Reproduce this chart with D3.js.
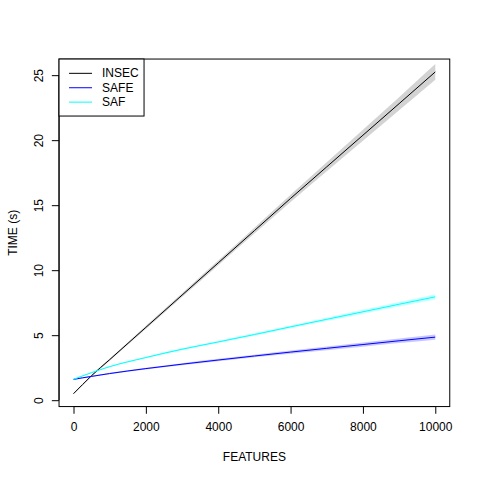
<!DOCTYPE html>
<html>
<head>
<meta charset="utf-8">
<script src="https://cdn.jsdelivr.net/npm/d3@7"></script>
<style>
  body { margin: 0; background: #fff; }
  svg { display: block; font-family: "Liberation Sans", Arial, sans-serif; }
</style>
</head>
<body>
<svg id="grafico"></svg>
<script>
// datos
const features = [0, 250, 500, 1000, 2000, 3000, 4000, 5000, 6000, 7000, 8000, 9000, 10000];

const insecFit = [0.5, 1.2, 1.89, 3.12, 5.6, 8.08, 10.56, 13.04, 15.52, 17.95, 20.38, 22.81, 25.25];
const insecHalf = [0.05, 0.06, 0.07, 0.08, 0.12, 0.15, 0.18, 0.22, 0.28, 0.35, 0.42, 0.5, 0.6];

const safeFit = [1.6, 1.72, 1.83, 2.05, 2.43, 2.77, 3.09, 3.4, 3.7, 3.99, 4.28, 4.57, 4.85];
const safeHalf = [0.05, 0.05, 0.05, 0.06, 0.07, 0.08, 0.09, 0.1, 0.12, 0.14, 0.16, 0.18, 0.2];

const safFit = [1.6, 1.87, 2.12, 2.58, 3.28, 3.92, 4.48, 5.05, 5.64, 6.22, 6.8, 7.38, 7.95];
const safHalf = [0.04, 0.04, 0.05, 0.05, 0.06, 0.07, 0.08, 0.1, 0.11, 0.13, 0.15, 0.17, 0.2];

const xTicks = [0, 2000, 4000, 6000, 8000, 10000];
const yTicks = [0, 5, 10, 15, 20, 25];

const series = [
  { name: "INSEC", fit: insecFit, half: insecHalf, line: "#000000", band: "#d3d3d3" },
  { name: "SAFE", fit: safeFit, half: safeHalf, line: "#0000ff", band: "rgba(0,0,255,0.22)" },
  { name: "SAF", fit: safFit, half: safHalf, line: "#00ffff", band: "rgba(0,255,255,0.22)" }
];

const WIDTH = 480, HEIGHT = 480;
const LINEA = 14.4; // una linea de margen en R
const margins = { top: 4.1 * LINEA, bottom: 5.1 * LINEA, left: 4.1 * LINEA, right: 2.1 * LINEA };

const svg = d3.select("#grafico")
  .attr("width", WIDTH)
  .attr("height", HEIGHT);

// rango extendido 4% como en R
const extender = ([a, b]) => [a - 0.04 * (b - a), b + 0.04 * (b - a)];

const escalaX = d3.scaleLinear()
  .domain(extender(d3.extent(features)))
  .range([margins.left, WIDTH - margins.right]);

const escalaY = d3.scaleLinear()
  .domain(extender(d3.extent(insecFit)))
  .range([HEIGHT - margins.bottom, margins.top]);

const contenedorDatos = svg.append("g");

series.forEach(s => {
  const puntos = features.map((f, i) => ({ x: f, y: s.fit[i], lo: s.fit[i] - s.half[i], hi: s.fit[i] + s.half[i] }));

  contenedorDatos.append("path")
    .datum(puntos)
    .attr("fill", s.band)
    .attr("stroke", "none")
    .attr("d", d3.area()
      .x(d => escalaX(d.x))
      .y0(d => escalaY(d.lo))
      .y1(d => escalaY(d.hi))
      .curve(d3.curveMonotoneX));

  contenedorDatos.append("path")
    .datum(puntos)
    .attr("fill", "none")
    .attr("stroke", s.line)
    .attr("stroke-width", 1)
    .attr("d", d3.line()
      .x(d => escalaX(d.x))
      .y(d => escalaY(d.y))
      .curve(d3.curveMonotoneX));
});

// caja del grafico
svg.append("rect")
  .attr("x", margins.left)
  .attr("y", margins.top)
  .attr("width", WIDTH - margins.left - margins.right)
  .attr("height", HEIGHT - margins.top - margins.bottom)
  .attr("fill", "none")
  .attr("stroke", "#000")
  .attr("stroke-width", 1);

// eje X
const ejeX = d3.axisBottom(escalaX)
  .tickValues(xTicks)
  .tickFormat(d3.format("d"))
  .tickSize(7.2)
  .tickPadding(9);

const contenedorEjeX = svg.append("g")
  .attr("transform", `translate(0 ${HEIGHT - margins.bottom})`)
  .call(ejeX);

contenedorEjeX.select(".domain")
  .attr("d", `M${escalaX(xTicks[0])},0H${escalaX(xTicks[xTicks.length - 1])}`);

// eje Y
const ejeY = d3.axisLeft(escalaY)
  .tickValues(yTicks)
  .tickSize(7.2);

const contenedorEjeY = svg.append("g")
  .attr("transform", `translate(${margins.left} 0)`)
  .call(ejeY);

contenedorEjeY.select(".domain")
  .attr("d", `M0,${escalaY(yTicks[0])}V${escalaY(yTicks[yTicks.length - 1])}`);

contenedorEjeY.selectAll(".tick text")
  .attr("x", null)
  .attr("dy", null)
  .attr("transform", "translate(-20.5 0) rotate(-90)")
  .attr("text-anchor", "middle")
  .attr("dominant-baseline", "central");

svg.selectAll(".tick text")
  .attr("font-size", 12)
  .attr("font-family", "Liberation Sans, Arial, sans-serif")
  .attr("fill", "#000");
svg.selectAll(".domain, .tick line").attr("stroke", "#000");

// titulos de ejes
svg.append("text")
  .attr("x", (margins.left + WIDTH - margins.right) / 2)
  .attr("y", 461)
  .attr("text-anchor", "middle")
  .attr("font-size", 12)
  .text("FEATURES");

svg.append("text")
  .attr("transform", `translate(12.5 ${(margins.top + HEIGHT - margins.bottom) / 2}) rotate(-90)`)
  .attr("text-anchor", "middle")
  .attr("dominant-baseline", "central")
  .attr("font-size", 12)
  .text("TIME (s)");

// leyenda
const leyenda = svg.append("g")
  .attr("transform", `translate(${margins.left} ${margins.top})`);

leyenda.append("rect")
  .attr("width", 85)
  .attr("height", 57)
  .attr("fill", "#fff")
  .attr("stroke", "#000");

const itemsLeyenda = leyenda.selectAll("g.item")
  .data(series)
  .join("g")
  .attr("class", "item")
  .attr("transform", (_, i) => `translate(0 ${14.3 + i * 14.4})`);

itemsLeyenda.append("line")
  .attr("x1", 10)
  .attr("x2", 33)
  .attr("stroke", d => d.line)
  .attr("stroke-width", 1);

itemsLeyenda.append("text")
  .attr("x", 43)
  .attr("dominant-baseline", "central")
  .attr("font-size", 12)
  .text(d => d.name);
</script>
</body>
</html>
